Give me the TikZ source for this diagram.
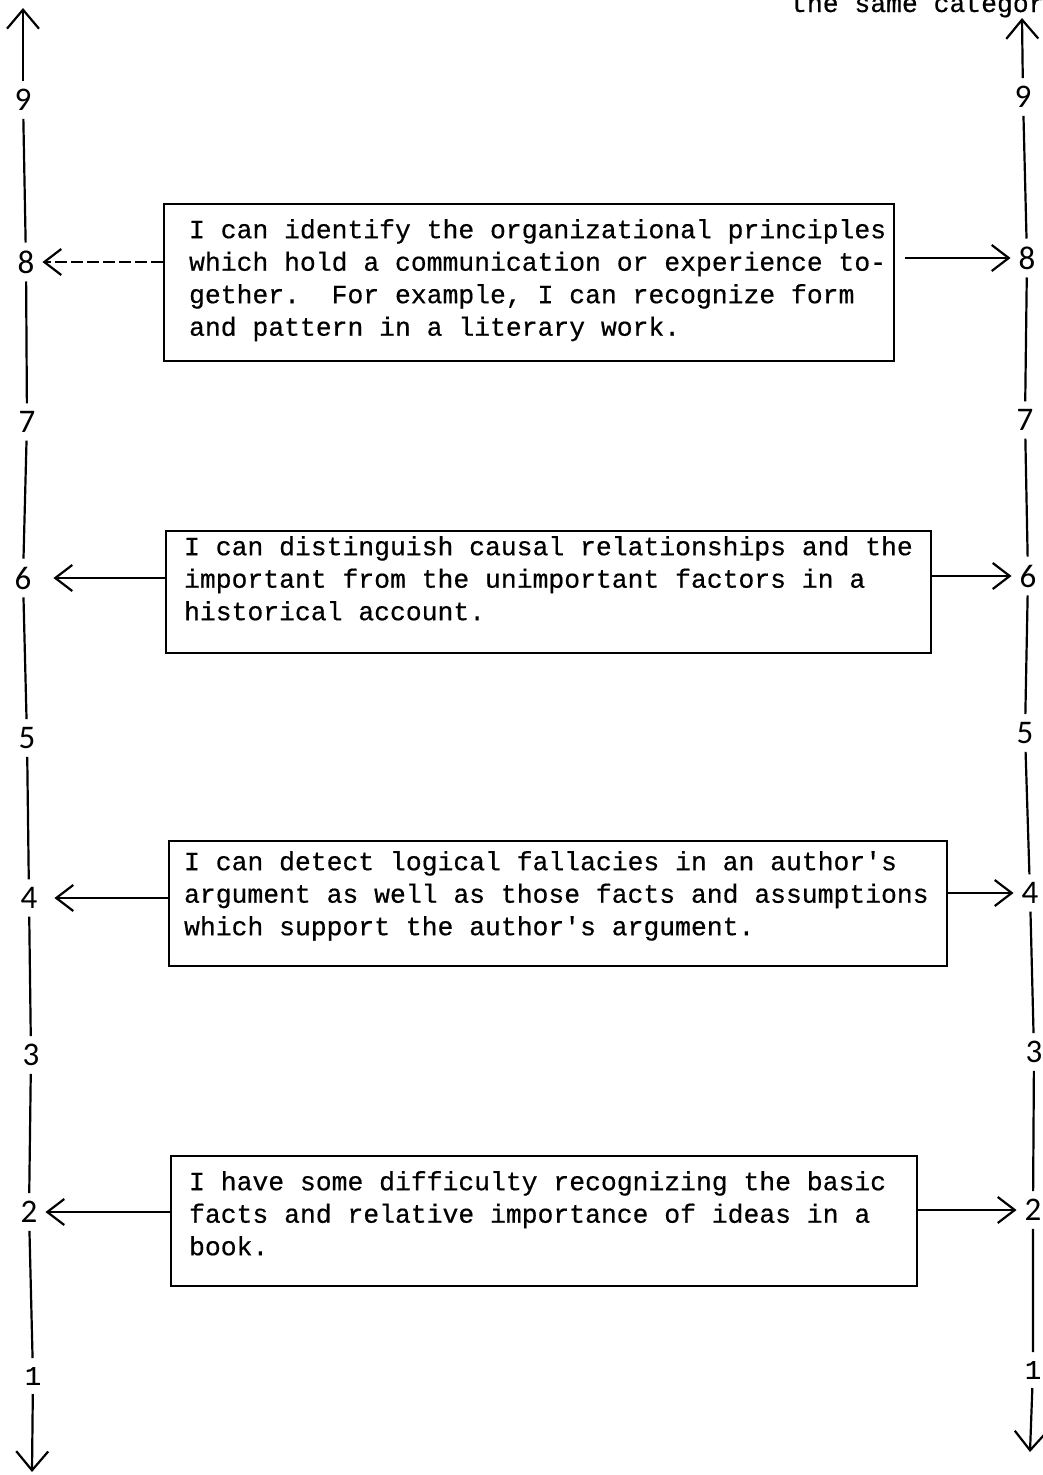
\documentclass[tikz,border=0pt]{standalone}
\usepackage{fontspec}
\newfontfamily\typefont[FakeBold=0.5]{Liberation Mono}
\newfontfamily\numfont{Carlito}
\usetikzlibrary{arrows.meta}

\begin{document}
\begin{tikzpicture}[x=1pt,y=-1pt,line width=2.2pt,
  lbl/.style={font=\numfont\fontsize{33}{33}\selectfont,inner sep=7pt},
  lblone/.style={font=\typefont\fontsize{27}{28}\selectfont,inner sep=8pt},
  card/.style={draw,anchor=north west,inner sep=0pt},
  cardtext/.style={anchor=north west,inner sep=0pt,align=left,
    font=\typefont\fontsize{26.4}{32.5}\selectfont},
  pointer/.style={-{Straight Barb[length=17pt,width=26pt]}},
  axisend/.style={-{Straight Barb[length=19pt,width=32pt]}}]
\useasboundingbox (0,0) rectangle (1042,1475);

% heading fragment at the top edge
\node[anchor=base west,inner sep=0pt,font=\typefont\fontsize{26.4}{28}\selectfont]
  (head) at (790,12) {the same categor};

% left scale
\coordinate (Ltop) at (23,8);
\node[lbl] (L9) at (23,100) {9};
\node[lbl] (L8) at (26,262) {8};
\node[lbl] (L7) at (27,422) {7};
\node[lbl] (L6) at (23,578) {6};
\node[lbl] (L5) at (27,738) {5};
\node[lbl] (L4) at (29,898) {4};
\node[lbl] (L3) at (31,1055) {3};
\node[lbl] (L2) at (29,1212) {2};
\node[lblone] (L1) at (33,1376) {1};
\coordinate (Lbot) at (32,1472);

% right scale
\coordinate (Rtop) at (1022,18);
\node[lbl] (R9) at (1023,97) {9};
\node[lbl] (R8) at (1027,258) {8};
\node[lbl] (R7) at (1025,420) {7};
\node[lbl] (R6) at (1028,576) {6};
\node[lbl] (R5) at (1025,733) {5};
\node[lbl] (R4) at (1030,893) {4};
\node[lbl] (R3) at (1034,1052) {3};
\node[lbl] (R2) at (1033,1210) {2};
\node[lblone] (R1) at (1033,1370) {1};
\coordinate (Rbot) at (1030,1452);

\draw[axisend] (L9) -- (Ltop);
\draw (L9) -- (L8) -- (L7) -- (L6) -- (L5) -- (L4) -- (L3) -- (L2) -- (L1);
\draw[axisend] (L1) -- (Lbot);
\draw[axisend] (R9) -- (Rtop);
\draw (R9) -- (R8) -- (R7) -- (R6) -- (R5) -- (R4) -- (R3) -- (R2) -- (R1);
\draw[axisend] (R1) -- (Rbot);

% statement boxes
\node[card,minimum width=730pt,minimum height=157pt] (B1) at (163,203) {};
\node[cardtext] (T1) at ([shift={(25,15)}]B1.north west)
  {I can identify the organizational principles\\
   which hold a communication or experience to-\\
   gether.\ \ For example, I can recognize form\\
   and pattern in a literary work.};

\node[card,minimum width=765pt,minimum height=122pt] (B2) at (165,530) {};
\node[cardtext] (T2) at ([shift={(18,5)}]B2.north west)
  {I can distinguish causal relationships and the\\
   important from the unimportant factors in a\\
   historical account.};

\node[card,minimum width=778pt,minimum height=125pt] (B3) at (168,840) {};
\node[cardtext] (T3) at ([shift={(15,10)}]B3.north west)
  {I can detect logical fallacies in an author's\\
   argument as well as those facts and assumptions\\
   which support the author's argument.};

\node[card,minimum width=746pt,minimum height=130pt] (B4) at (170,1155) {};
\node[cardtext] (T4) at ([shift={(18,15)}]B4.north west)
  {I have some difficulty recognizing the basic\\
   facts and relative importance of ideas in a\\
   book.};

% pointers from each box to its level on both scales
\draw[pointer,dash pattern=on 12pt off 4pt] (B1.west |- L8) -- (L8.east);
\draw[pointer,shorten <=10pt] (B1.east |- R8) -- (R8.west);
\draw[pointer,shorten >=14pt] (B2.west |- L6) -- (L6.east);
\draw[pointer] (B2.east |- R6) -- (R6.west);
\draw[pointer,shorten >=9pt] (B3.west |- L4) -- (L4.east);
\draw[pointer] (B3.east |- R4) -- (R4.west);
\draw[pointer] (B4.west |- L2) -- (L2.east);
\draw[pointer] (B4.east |- R2) -- (R2.west);
\end{tikzpicture}
\end{document}
